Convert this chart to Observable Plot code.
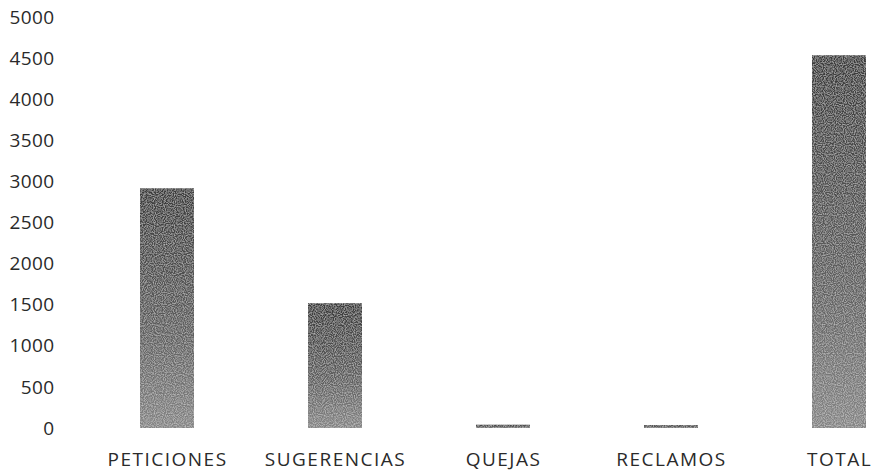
<!DOCTYPE html>
<html>
<head>
<meta charset="utf-8">
<script src="https://cdn.jsdelivr.net/npm/d3@7"></script>
<script src="https://cdn.jsdelivr.net/npm/@observablehq/plot@0.6"></script>
<style>
  html, body { margin: 0; padding: 0; background: #ffffff; }
  #chart svg { display: block; }
  #chart svg g[aria-label^='x-axis'] text { letter-spacing: 1.5px; }
  #chart svg g[aria-label^='y-axis'] text { letter-spacing: 0.4px; }
</style>
</head>
<body>
<div id="chart"></div>
<script>
const categories = ["PETICIONES", "SUGERENCIAS", "QUEJAS", "RECLAMOS", "TOTAL"];
const values = [2920, 1520, 40, 35, 4540];
const yTicks = [0, 500, 1000, 1500, 2000, 2500, 3000, 3500, 4000, 4500, 5000];

const data = categories.map((c, i) => ({category: c, value: values[i]}));

function gradientDefs() {
  const defs = d3.create("svg:defs");
  const g = defs.append("linearGradient")
    .attr("id", "barGrad")
    .attr("x1", 0).attr("y1", 0).attr("x2", 0).attr("y2", 1);
  g.append("stop").attr("offset", "0%").attr("stop-color", "#3a3a3a");
  g.append("stop").attr("offset", "60%").attr("stop-color", "#5e5e5e");
  g.append("stop").attr("offset", "100%").attr("stop-color", "#858585");
  const f = defs.append("filter").attr("id", "grain")
    .attr("x", 0).attr("y", 0).attr("width", 1).attr("height", 1);
  f.append("feTurbulence").attr("type", "fractalNoise").attr("baseFrequency", 0.9)
    .attr("numOctaves", 1).attr("seed", 3).attr("result", "noise");
  f.append("feColorMatrix").attr("in", "noise").attr("type", "matrix")
    .attr("values", "0 0 0 0 1  0 0 0 0 1  0 0 0 0 1  0 0 0 0.9 -0.35").attr("result", "speck");
  f.append("feComposite").attr("in", "speck").attr("in2", "SourceGraphic").attr("operator", "in").attr("result", "speckIn");
  f.append("feMerge").call(m => {
    m.append("feMergeNode").attr("in", "SourceGraphic");
    m.append("feMergeNode").attr("in", "speckIn");
  });
  return defs.node();
}

const chart = Plot.plot({
  width: 871,
  height: 473,
  marginLeft: 57,
  marginRight: 0,
  marginTop: 17,
  marginBottom: 45,
  style: {fontFamily: "'Open Sans', sans-serif", fontSize: "19px", color: "#2a2a2a", background: "#ffffff"},
  x: {domain: categories, range: [22.5, 982.4], padding: 0.68, label: null, tickSize: 0, tickPadding: 24},
  y: {domain: [0, 5000], range: [428, 17.5], ticks: yTicks, tickFormat: d => String(d), tickSize: 0, tickPadding: 3, label: null},
  marks: [
    gradientDefs,
    Plot.barY(data, {x: "category", y: "value", fill: "url(#barGrad)"}),
  ]
});

d3.select(chart).selectAll("g[aria-label='bar'] rect").attr("filter", "url(#grain)");
document.getElementById("chart").appendChild(chart);
</script>
</body>
</html>
